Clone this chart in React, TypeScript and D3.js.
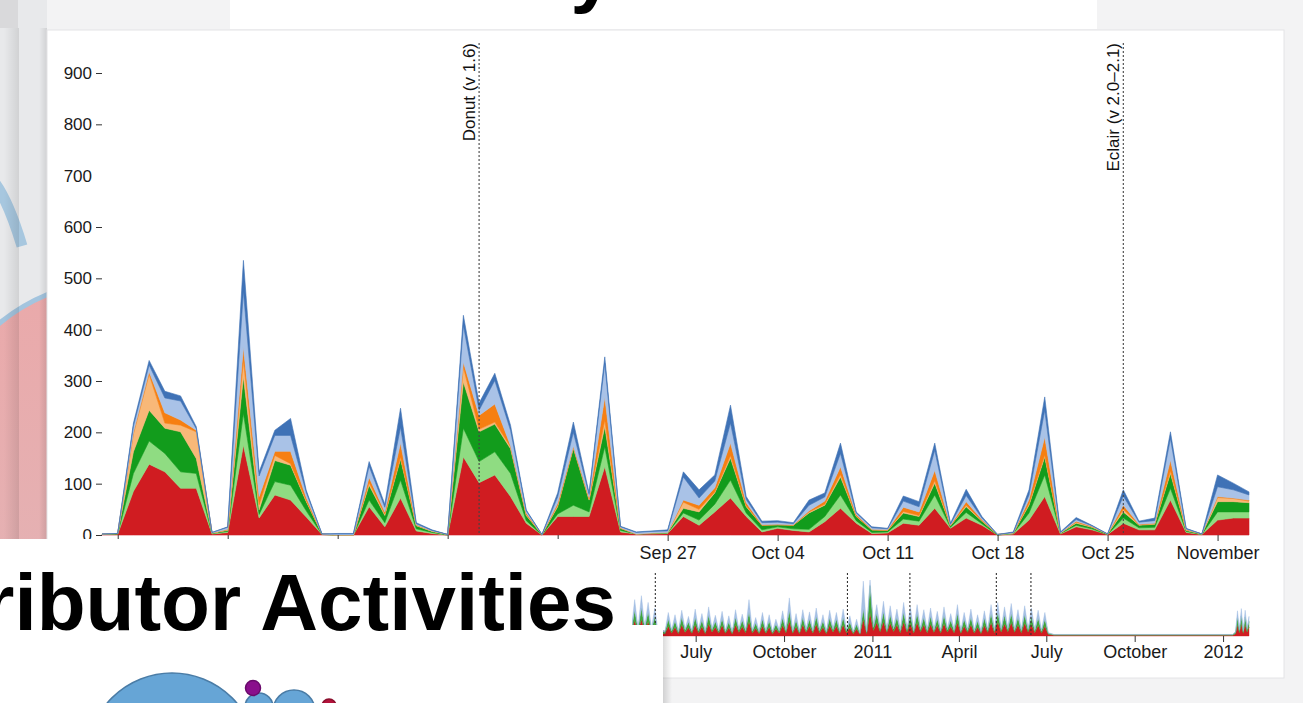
import React, { useEffect, useRef } from 'react';
import * as d3 from 'd3';

const WIDTH = 1303;
const HEIGHT = 703;

// daily commits per group, one value per day from 2009-08-22
const dayStart = '2009-08-22';
const red = [1, 2, 85, 138, 123, 91, 91, 2, 5, 175, 33, 78, 68, 35, 1, 0, 0, 55, 16, 72, 8, 3, 0, 152, 102, 117, 75, 23, 0, 36, 36, 36, 133, 6, 2, 2, 3, 36, 19, 45, 72, 36, 6, 13, 9, 6, 26, 52, 23, 3, 4, 23, 19, 52, 13, 33, 19, 0, 2, 29, 75, 2, 16, 10, 1, 23, 10, 10, 68, 5, 1, 29, 33, 33];
const lightGreen = [0, 0, 35, 45, 36, 32, 29, 1, 2, 62, 7, 26, 29, 12, 0, 0, 0, 13, 8, 35, 4, 2, 0, 56, 41, 45, 45, 5, 0, 5, 22, 9, 39, 3, 0, 1, 1, 7, 10, 15, 35, 7, 4, 3, 3, 5, 10, 26, 5, 2, 2, 8, 8, 26, 2, 11, 3, 0, 1, 14, 42, 1, 3, 2, 0, 10, 4, 5, 23, 2, 0, 16, 12, 12];
const green = [1, 1, 42, 60, 49, 78, 29, 1, 2, 71, 9, 41, 39, 18, 1, 0, 0, 29, 14, 41, 6, 2, 1, 90, 58, 54, 48, 10, 1, 14, 111, 23, 39, 4, 0, 1, 1, 9, 16, 22, 43, 12, 9, 4, 7, 32, 22, 35, 8, 5, 3, 12, 9, 23, 3, 11, 5, 1, 1, 15, 35, 1, 4, 3, 1, 12, 5, 6, 29, 2, 1, 20, 20, 18];
const lightOrange = [0, 0, 35, 70, 10, 13, 52, 0, 1, 32, 10, 10, 3, 2, 0, 0, 0, 5, 3, 4, 1, 1, 0, 29, 5, 4, 4, 2, 0, 3, 2, 2, 13, 0, 0, 0, 0, 12, 5, 2, 5, 2, 0, 0, 0, 2, 2, 5, 1, 0, 0, 3, 2, 5, 0, 3, 1, 0, 0, 3, 4, 0, 2, 1, 0, 5, 1, 1, 5, 1, 0, 8, 6, 3];
const orange = [0, 0, 3, 5, 20, 10, 3, 0, 1, 26, 16, 8, 24, 6, 0, 0, 0, 10, 4, 27, 1, 0, 0, 10, 27, 35, 2, 3, 0, 4, 2, 3, 45, 1, 0, 0, 0, 4, 8, 8, 24, 6, 1, 1, 1, 2, 6, 15, 3, 1, 1, 8, 7, 20, 1, 7, 2, 0, 0, 8, 35, 0, 2, 1, 0, 8, 1, 1, 21, 1, 0, 2, 1, 2];
const lightBlue = [0, 0, 12, 13, 29, 37, 3, 1, 4, 109, 40, 31, 31, 10, 0, 2, 2, 22, 9, 31, 2, 1, 0, 71, 10, 46, 30, 4, 0, 12, 27, 6, 65, 2, 3, 3, 3, 45, 14, 13, 39, 6, 4, 4, 2, 11, 8, 26, 3, 3, 2, 12, 10, 39, 2, 12, 3, 0, 1, 9, 52, 1, 3, 1, 0, 18, 4, 5, 42, 1, 0, 19, 16, 10];
const blue = [0, 0, 6, 9, 13, 10, 4, 0, 1, 60, 8, 10, 33, 4, 0, 1, 1, 9, 6, 37, 2, 1, 0, 20, 14, 14, 10, 2, 0, 8, 20, 3, 13, 1, 1, 1, 2, 10, 16, 12, 35, 6, 3, 3, 2, 10, 8, 20, 2, 2, 1, 10, 10, 14, 2, 12, 3, 0, 1, 10, 26, 1, 4, 1, 0, 12, 2, 5, 13, 1, 0, 23, 13, 6];

const seriesKeys = ['red', 'lightGreen', 'green', 'lightOrange', 'orange', 'lightBlue', 'blue'];
const seriesColors = ['#d01c21', '#8fdc82', '#129c1c', '#f8b878', '#f67f12', '#a9c2e7', '#3f72b6'];
const seriesValues = [red, lightGreen, green, lightOrange, orange, lightBlue, blue];

const yTicks = [0, 100, 200, 300, 400, 500, 600, 700, 800, 900];

const releaseNames = ['Donut (v 1.6)', 'Eclair (v 2.0–2.1)'];
const releaseDates = ['2009-09-15', '2009-10-26'];

// overview strip: twice-weekly samples from 2010-04-25, then a quiet tail
const miniStart = '2010-04-25';
const miniRed = [60, 280, 75, 300, 90, 260, 70, 210, 30, 55, 40, 180, 55, 160, 45, 200, 65, 150, 50, 200, 60, 170, 45, 220, 70, 160, 55, 190, 50, 150, 40, 200, 65, 170, 60, 260, 55, 140, 45, 180, 50, 160, 40, 130, 55, 190, 60, 270, 50, 170, 45, 200, 65, 180, 55, 210, 60, 160, 45, 190, 70, 180, 50, 200, 60, 150, 40, 130, 30, 300, 45, 420, 100, 240, 75, 260, 65, 230, 80, 200, 60, 250, 70, 220, 55, 240, 75, 200, 60, 210, 65, 190, 55, 220, 70, 170, 60, 240, 50, 180, 65, 200, 55, 160, 45, 190, 65, 240, 60, 250, 70, 220, 75, 240, 65, 200, 60, 230, 70, 210, 60, 190, 55, 180, 30];
const miniGreen = [35, 180, 45, 200, 55, 170, 40, 140, 18, 35, 25, 120, 35, 110, 25, 130, 40, 100, 30, 130, 35, 110, 25, 150, 40, 100, 30, 120, 30, 100, 25, 130, 40, 110, 35, 170, 30, 90, 25, 120, 30, 110, 25, 80, 30, 130, 35, 180, 30, 110, 25, 130, 35, 120, 30, 140, 35, 110, 25, 130, 40, 120, 30, 130, 35, 100, 25, 80, 18, 180, 25, 480, 55, 160, 40, 170, 35, 150, 45, 130, 35, 170, 40, 150, 30, 160, 40, 130, 35, 140, 35, 120, 30, 150, 40, 110, 35, 160, 30, 120, 35, 130, 30, 110, 25, 130, 35, 160, 35, 170, 40, 150, 40, 160, 35, 130, 35, 150, 40, 140, 35, 130, 30, 120, 18];
const miniBlue = [25, 190, 30, 220, 35, 170, 30, 150, 12, 30, 15, 120, 20, 110, 20, 130, 25, 100, 20, 150, 25, 120, 20, 150, 30, 110, 25, 130, 20, 110, 15, 140, 25, 110, 25, 220, 25, 100, 20, 120, 20, 110, 15, 90, 25, 130, 25, 230, 20, 120, 20, 140, 30, 130, 25, 150, 25, 110, 20, 140, 30, 120, 20, 150, 25, 110, 15, 90, 12, 500, 20, 100, 45, 160, 35, 190, 30, 160, 35, 150, 25, 180, 30, 150, 25, 160, 35, 140, 25, 150, 30, 130, 25, 150, 30, 120, 25, 160, 20, 120, 30, 150, 25, 110, 20, 130, 30, 160, 25, 180, 30, 150, 35, 180, 30, 140, 25, 160, 30, 150, 25, 140, 25, 120, 12];
const miniTailDates = ['2011-07-09', '2012-01-11', '2012-01-14', '2012-01-16', '2012-01-18', '2012-01-20', '2012-01-22', '2012-01-24', '2012-01-26', '2012-01-28'];
const miniTailRed = [14, 14, 40, 200, 60, 220, 50, 210, 70, 160];
const miniTailGreen = [10, 10, 25, 130, 40, 140, 30, 130, 45, 100];
const miniTailBlue = [4, 4, 15, 120, 30, 130, 25, 120, 40, 90];
const miniKeys = ['red', 'green', 'blue'];
const miniColors = ['#d01c21', '#3fa53a', '#a6c0e4'];
const miniReleaseDates = ['2009-04-30', '2009-09-15', '2009-10-26', '2010-05-20', '2010-12-06', '2011-02-09', '2011-05-10', '2011-06-15'];

const parse = d3.timeParse('%Y-%m-%d');

const App: React.FC = () => {
    const svgRef = useRef<SVGSVGElement | null>(null);

    useEffect(() => {
        document.body.style.margin = '0';
        if (!svgRef.current) return;
        const svg = d3.select(svgRef.current);
        svg.selectAll('*').remove();
        const font = '"Liberation Sans", Arial, Helvetica, sans-serif';

        const defs = svg.append('defs');
        const shade = defs.append('linearGradient').attr('id', 'shadeR');
        shade.append('stop').attr('offset', '0%').attr('stop-color', '#000').attr('stop-opacity', 0);
        shade.append('stop').attr('offset', '100%').attr('stop-color', '#000').attr('stop-opacity', 0.1);
        const shadeL = defs.append('linearGradient').attr('id', 'shadeL');
        shadeL.append('stop').attr('offset', '0%').attr('stop-color', '#000').attr('stop-opacity', 0.14);
        shadeL.append('stop').attr('offset', '100%').attr('stop-color', '#000').attr('stop-opacity', 0);
        const fade = defs.append('linearGradient').attr('id', 'pinkFade').attr('x1', 0).attr('y1', 0).attr('x2', 0).attr('y2', 1);
        fade.append('stop').attr('offset', '0%').attr('stop-color', '#eaa9aa');
        fade.append('stop').attr('offset', '100%').attr('stop-color', '#e3b4b6');
        defs.append('clipPath').attr('id', 'leftStrip')
            .append('rect').attr('x', 0).attr('y', 0).attr('width', 47).attr('height', 540);
        defs.append('clipPath').attr('id', 'plotClip')
            .append('rect').attr('x', 100).attr('y', 30).attr('width', 1152).attr('height', 620);

        // slide backgrounds
        svg.append('rect').attr('width', WIDTH).attr('height', HEIGHT).attr('fill', '#f3f3f4');
        const strip = svg.append('g').attr('clip-path', 'url(#leftStrip)');
        strip.append('rect').attr('width', 47).attr('height', 540).attr('fill', '#e8e9eb');
        strip.append('circle').attr('cx', 120).attr('cy', 470).attr('r', 190)
            .attr('fill', 'url(#pinkFade)').attr('stroke', '#a3c4de').attr('stroke-width', 5);
        strip.append('path').attr('d', 'M-6,182 Q8,200 22,246')
            .attr('fill', 'none').attr('stroke', '#a7c7df').attr('stroke-width', 11);
        strip.append('rect').attr('x', 0).attr('y', 0).attr('width', 18).attr('height', 28).attr('fill', '#d9d9db');
        strip.append('rect').attr('x', 4).attr('y', 28).attr('width', 15).attr('height', 512).attr('fill', 'url(#shadeR)');
        strip.append('rect').attr('x', 39).attr('y', 28).attr('width', 8).attr('height', 512).attr('fill', 'url(#shadeR)');

        // title card peeking in at the top
        svg.append('rect').attr('x', 230).attr('y', 0).attr('width', 867).attr('height', 29).attr('fill', '#ffffff');
        svg.append('text').attr('x', 614).attr('y', -2).attr('text-anchor', 'end')
            .attr('font-family', font).attr('font-weight', 'bold').attr('font-size', 78)
            .attr('fill', '#000').text('Activity');

        // chart panel
        svg.append('rect').attr('x', 47).attr('y', 30).attr('width', 1237).attr('height', 648)
            .attr('fill', '#ffffff').attr('stroke', '#e4e4e6').attr('stroke-width', 1);

        const rows = red.map((_, i) => {
            const row: any = { date: d3.timeDay.offset(parse(dayStart) as Date, i) };
            seriesKeys.forEach((k, j) => { row[k] = seriesValues[j][i]; });
            return row;
        });

        const x = d3.scaleTime()
            .domain([rows[0].date, rows[rows.length - 1].date])
            .range([102, 1249]);
        const y = d3.scaleLinear().domain([0, 900]).range([535, 73]);

        const layers = d3.stack<any>().keys(seriesKeys)(rows);
        const area = d3.area<any>()
            .x(d => x(d.data.date))
            .y0(d => y(d[0]))
            .y1(d => y(d[1]));

        const plot = svg.append('g').attr('clip-path', 'url(#plotClip)');
        plot.selectAll('path.layer')
            .data(layers)
            .enter()
            .append('path')
            .attr('class', 'layer')
            .attr('d', area)
            .attr('fill', (_, i) => seriesColors[i])
            .attr('stroke', (_, i) => seriesColors[i])
            .attr('stroke-width', 0.6)
            .attr('stroke-linejoin', 'round');

        // release markers
        releaseDates.forEach((ds, i) => {
            const rx = x(parse(ds) as Date);
            svg.append('line')
                .attr('x1', rx).attr('x2', rx).attr('y1', 43).attr('y2', 535)
                .attr('stroke', '#444').attr('stroke-width', 1.1).attr('stroke-dasharray', '2,2');
            svg.append('text')
                .attr('transform', `translate(${rx - 4},43) rotate(-90)`)
                .attr('text-anchor', 'end')
                .attr('font-family', font).attr('font-size', 17).attr('fill', '#111')
                .text(releaseNames[i]);
        });

        // axes (labels hidden under the overlapping slide are left out)
        const xAxis = svg.append('g')
            .attr('transform', 'translate(0,535)')
            .call(d3.axisBottom(x).ticks(d3.timeWeek.every(1)).tickSize(6).tickPadding(5));
        xAxis.select('.domain').remove();
        xAxis.selectAll('line').attr('stroke', '#333');
        xAxis.selectAll('.tick').filter((d: any) => x(d) < 632).select('text').remove();
        xAxis.selectAll('text').attr('font-family', font).attr('font-size', 18).attr('fill', '#1a1a1a');

        const yAxis = svg.append('g')
            .attr('transform', 'translate(102,0)')
            .call(d3.axisLeft(y).tickValues(yTicks).tickSize(6).tickPadding(4));
        yAxis.select('.domain').remove();
        yAxis.selectAll('line').attr('stroke', '#333');
        yAxis.selectAll('.tick').filter((d: any) => d === 700).select('line').remove();
        yAxis.selectAll('text').attr('font-family', font).attr('font-size', 17).attr('fill', '#1a1a1a');

        // overview strip
        const miniRows: any[] = miniRed.map((v, k) => ({
            date: d3.timeHour.offset(parse(miniStart) as Date, k * 84),
            red: v, green: miniGreen[k], blue: miniBlue[k],
        }));
        miniTailDates.forEach((ds, k) => {
            miniRows.push({ date: parse(ds), red: miniTailRed[k], green: miniTailGreen[k], blue: miniTailBlue[k] });
        });
        const mx = d3.scaleTime()
            .domain([parse('2008-10-21') as Date, parse('2012-01-28') as Date])
            .range([102, 1249]);
        const my = d3.scaleLinear().domain([0, 1000]).range([636, 580]);
        const miniLayers = d3.stack<any>().keys(miniKeys)(miniRows);
        const miniArea = d3.area<any>()
            .x(d => mx(d.data.date))
            .y0(d => my(d[0]))
            .y1(d => my(d[1]));
        svg.append('g').selectAll('path')
            .data(miniLayers)
            .enter()
            .append('path')
            .attr('d', miniArea)
            .attr('fill', (_, i) => miniColors[i])
            .attr('stroke', (_, i) => (i === 2 ? '#9ab8e0' : miniColors[i]))
            .attr('stroke-width', 0.4);

        miniReleaseDates.forEach(ds => {
            const rx = mx(parse(ds) as Date);
            svg.append('line')
                .attr('x1', rx).attr('x2', rx).attr('y1', 573).attr('y2', 636)
                .attr('stroke', '#333').attr('stroke-width', 1.1).attr('stroke-dasharray', '2,2');
        });

        const mAxis = svg.append('g')
            .attr('transform', 'translate(0,636)')
            .call(d3.axisBottom(mx).ticks(d3.timeMonth.every(3)).tickSize(6).tickPadding(3));
        mAxis.select('.domain').remove();
        mAxis.selectAll('.tick').filter((d: any) => mx(d) < 663).remove();
        mAxis.selectAll('line').attr('stroke', '#333');
        mAxis.selectAll('text').attr('font-family', font).attr('font-size', 18).attr('fill', '#1a1a1a');

        // slide laid over the lower left
        svg.append('rect').attr('x', 0).attr('y', 539).attr('width', 632).attr('height', 164).attr('fill', '#ffffff');
        svg.append('rect').attr('x', 0).attr('y', 625).attr('width', 663).attr('height', 78).attr('fill', '#ffffff');
        svg.append('rect').attr('x', 663).attr('y', 630).attr('width', 9).attr('height', 73).attr('fill', 'url(#shadeL)');
        svg.append('text').attr('x', 616).attr('y', 630).attr('text-anchor', 'end')
            .attr('font-family', font).attr('font-weight', 'bold').attr('font-size', 80)
            .attr('fill', '#000').text('Contributor Activities');

        const bubbles = svg.append('g').attr('stroke', '#4a7ca6').attr('stroke-width', 1.5);
        bubbles.append('circle').attr('cx', 172).attr('cy', 758).attr('r', 85).attr('fill', '#66a5d6');
        bubbles.append('circle').attr('cx', 259).attr('cy', 707).attr('r', 14).attr('fill', '#66a5d6');
        bubbles.append('circle').attr('cx', 294).attr('cy', 711).attr('r', 21).attr('fill', '#66a5d6');
        bubbles.append('circle').attr('cx', 253).attr('cy', 688).attr('r', 7.5).attr('fill', '#8a0f8c').attr('stroke', '#6a0a6c');
        bubbles.append('circle').attr('cx', 329).attr('cy', 706).attr('r', 7).attr('fill', '#b3133b').attr('stroke', '#8a0e2c');
    }, []);

    return <svg ref={svgRef} width={WIDTH} height={HEIGHT} style={{ display: 'block' }} />;
};

export default App;
